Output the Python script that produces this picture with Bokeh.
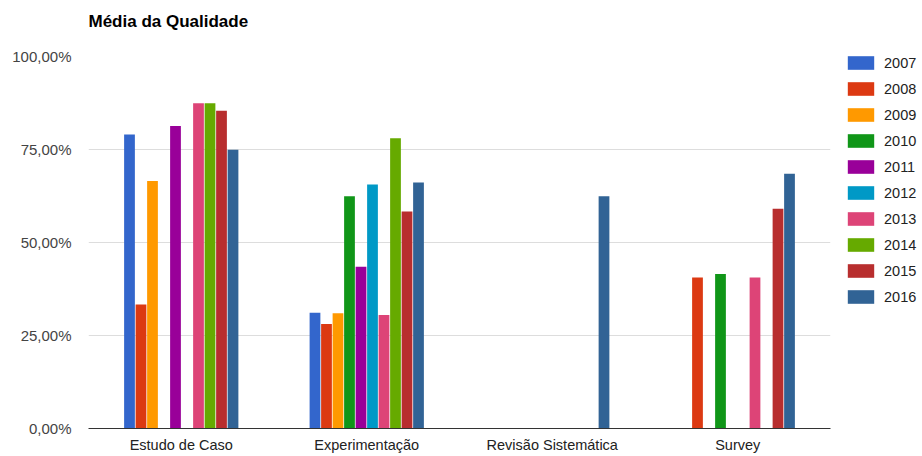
from bokeh.plotting import figure
from bokeh.models import FactorRange, Range1d, ColumnDataSource, Legend, LegendItem, Title, FixedTicker
from bokeh.transform import dodge
from bokeh.embed import file_html
from bokeh.resources import INLINE

categories = ["Estudo de Caso", "Experimentação", "Revisão Sistemática", "Survey"]
years = ["2007", "2008", "2009", "2010", "2011", "2012", "2013", "2014", "2015", "2016"]
colors = ["#3366cc", "#dc3912", "#ff9900", "#109618", "#990099",
          "#0099c6", "#dd4477", "#66aa00", "#b82e2e", "#316395"]

# values per year, in order of categories (None = no bar)
v2007 = [79.0, 31.1, None, None]
v2008 = [33.3, 28.1, None, 40.6]
v2009 = [66.5, 31.0, None, None]
v2010 = [None, 62.4, None, 41.5]
v2011 = [81.3, 43.5, None, None]
v2012 = [None, 65.6, None, None]
v2013 = [87.4, 30.5, None, 40.6]
v2014 = [87.4, 78.0, None, None]
v2015 = [85.4, 58.3, None, 59.1]
v2016 = [74.9, 66.1, 62.4, 68.5]
series = [v2007, v2008, v2009, v2010, v2011, v2012, v2013, v2014, v2015, v2016]

tick_values = [0, 25, 50, 75, 100]
tick_labels = ["0,00%", "25,00%", "50,00%", "75,00%", "100,00%"]

FONT = "Liberation Sans"

p = figure(frame_width=742, frame_height=372, x_range=FactorRange(*categories, range_padding=0),
           y_range=Range1d(0, 100), output_backend="svg", toolbar_location=None,
           min_border_left=88, min_border_right=92, min_border_top=56, min_border_bottom=28,
           title=None)
p.outline_line_color = None
p.background_fill_color = "white"
p.border_fill_color = "white"

step = 0.062
items = []
for i, (yr, vals, col) in enumerate(zip(years, series, colors)):
    xs = [c for c, v in zip(categories, vals) if v is not None]
    ys = [v for v in vals if v is not None]
    src = ColumnDataSource(dict(x=xs, top=ys))
    r = p.vbar(x=dodge("x", (i - 4.5) * step, range=p.x_range), top="top", bottom=0,
               width=0.058, source=src, fill_color=col, line_color=None)
    items.append(LegendItem(label=yr, renderers=[r]))

legend = Legend(items=items, location=(14, 123), orientation="vertical",
                glyph_width=33, glyph_height=17, spacing=9, label_height=17,
                label_standoff=7, margin=0, padding=0, border_line_color=None,
                background_fill_alpha=0,
                label_text_font=FONT, label_text_font_size="14.5px", label_text_color="#222222")
p.add_layout(legend, "right")

# spacer between the frame and the title
spacer = Title(text=" ", text_font_size="1px", standoff=13)
p.add_layout(spacer, "above")
t = Title(text="Média da Qualidade", align="left", text_font=FONT, text_font_size="17px",
          text_font_style="bold", text_color="#000000", standoff=19)
p.add_layout(t, "above")

p.xgrid.grid_line_color = None
p.ygrid.grid_line_color = "#dddddd"
p.ygrid.ticker = FixedTicker(ticks=tick_values)

p.yaxis.ticker = FixedTicker(ticks=tick_values)
p.yaxis.major_label_overrides = {v: l for v, l in zip(tick_values, tick_labels)}
p.yaxis.axis_line_color = None
p.yaxis.major_tick_line_color = None
p.yaxis.minor_tick_line_color = None
p.yaxis.major_label_standoff = 11
p.yaxis.major_label_text_font = FONT
p.yaxis.major_label_text_font_size = "15px"
p.yaxis.major_label_text_color = "#444444"

p.xaxis.axis_line_color = "#333333"
p.xaxis.axis_line_width = 1
p.xaxis.major_tick_line_color = None
p.xaxis.minor_tick_line_color = None
p.xaxis.major_label_standoff = 2
p.xaxis.major_label_text_font = FONT
p.xaxis.major_label_text_font_size = "14.5px"
p.xaxis.major_label_text_color = "#222222"

open("out.html", "w").write(file_html(p, INLINE))
